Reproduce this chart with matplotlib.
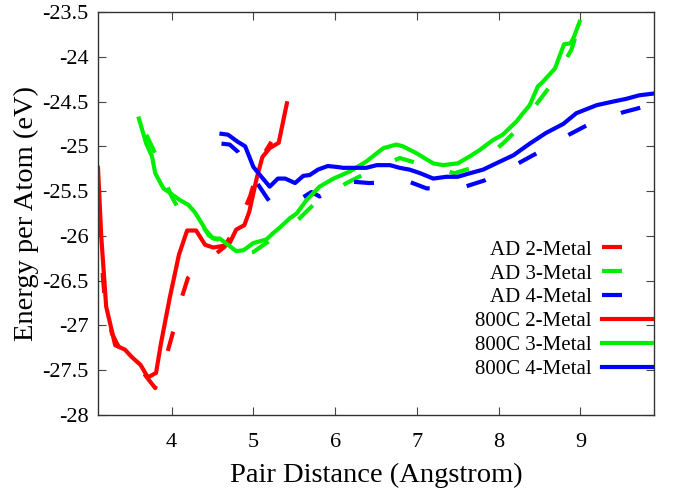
import matplotlib
matplotlib.use("Agg")
import matplotlib.pyplot as plt

plt.rcParams['font.family'] = ['Liberation Serif', 'DejaVu Serif']

# AD 2-Metal (dashed red)
ad2_x = [3.10, 3.14, 3.16, 3.18, 3.27, 3.37, 3.53, 3.69, 3.80, 3.94, 4.01, 4.12,
         4.20, 4.32, 4.46, 4.65, 4.86, 4.96, 5.10, 5.22]
ad2_y = [-25.78, -26.02, -26.46, -26.68, -27.09, -27.27, -27.38, -27.57, -27.70, -27.33,
         -27.10, -26.70, -26.47, -26.36, -26.26, -26.12, -25.77, -25.56, -25.13, -24.95]

# AD 3-Metal (dashed green)
ad3_x = [3.69, 3.80, 3.89, 4.00, 4.08, 4.20, 4.30, 4.40, 4.50, 4.60, 4.70, 4.80, 4.90,
         5.00, 5.22, 5.57, 5.77, 6.14, 6.38, 6.79, 7.01, 7.46, 7.71, 8.05, 8.24, 8.52,
         8.67, 8.89, 9.00]
ad3_y = [-24.87, -25.08, -25.32, -25.56, -25.69, -25.72, -25.78, -25.92, -26.02, -26.05,
         -26.12, -26.18, -26.20, -26.18, -26.04, -25.80, -25.62, -25.41, -25.30, -25.13,
         -25.19, -25.30, -25.23, -24.97, -24.80, -24.46, -24.28, -23.92, -23.61]

# AD 4-Metal (dashed blue)
ad4_x = [4.61, 4.71, 4.81, 4.93, 5.06, 5.20, 5.39, 5.59, 5.71, 5.81, 6.14, 6.42, 6.89,
         7.12, 7.59, 7.83, 8.24, 8.46, 8.86, 9.09, 9.52, 9.77]
ad4_y = [-24.97, -24.98, -25.06, -25.24, -25.43, -25.62, -25.65, -25.58, -25.51, -25.56,
         -25.39, -25.41, -25.39, -25.47, -25.45, -25.38, -25.19, -25.08, -24.87, -24.76,
         -24.62, -24.56]

# 800C 2-Metal (solid red)
c2_x = [3.10, 3.14, 3.20, 3.31, 3.43, 3.51, 3.62, 3.71, 3.81, 3.87, 3.98, 4.09, 4.19,
        4.30, 4.41, 4.51, 4.64, 4.71, 4.79, 4.89, 4.95, 5.04, 5.11, 5.20, 5.31, 5.41]
c2_y = [-25.24, -26.01, -26.79, -27.22, -27.27, -27.35, -27.44, -27.58, -27.53, -27.20,
        -26.68, -26.21, -25.94, -25.94, -26.10, -26.13, -26.11, -26.08, -25.93, -25.88,
        -25.73, -25.36, -25.12, -25.02, -24.96, -24.52]

# 800C 3-Metal (solid green)
c3_x = [3.60, 3.69, 3.76, 3.80, 3.90, 3.98, 4.10, 4.20, 4.28, 4.37, 4.45, 4.51, 4.59,
        4.69, 4.79, 4.88, 5.00, 5.16, 5.24, 5.32, 5.45, 5.53, 5.65, 5.81, 5.98, 6.18,
        6.38, 6.59, 6.75, 6.83, 7.00, 7.20, 7.32, 7.50, 7.65, 7.77, 7.93, 8.05, 8.22,
        8.28, 8.38, 8.48, 8.54, 8.69, 8.75, 8.80, 8.88, 8.92, 8.99]
c3_y = [-24.69, -24.97, -25.11, -25.30, -25.47, -25.52, -25.60, -25.65, -25.73, -25.86,
        -25.99, -26.03, -26.03, -26.10, -26.17, -26.16, -26.08, -26.04, -25.97, -25.91,
        -25.80, -25.75, -25.60, -25.45, -25.36, -25.28, -25.17, -25.02, -24.98, -25.00,
        -25.08, -25.19, -25.21, -25.19, -25.11, -25.04, -24.93, -24.87, -24.72, -24.65,
        -24.54, -24.33, -24.28, -24.13, -23.98, -23.86, -23.85, -23.78, -23.61]

# 800C 4-Metal (solid blue)
c4_x = [4.61, 4.69, 4.81, 4.90, 5.00, 5.08, 5.20, 5.30, 5.39, 5.51, 5.61, 5.69, 5.79,
        5.91, 6.02, 6.10, 6.22, 6.38, 6.51, 6.67, 6.79, 6.91, 7.04, 7.20, 7.36, 7.50,
        7.65, 7.81, 7.97, 8.18, 8.38, 8.58, 8.79, 8.95, 9.20, 9.40, 9.56, 9.72, 9.90]
c4_y = [-24.86, -24.87, -24.95, -25.00, -25.23, -25.32, -25.45, -25.36, -25.36, -25.41,
        -25.33, -25.32, -25.26, -25.22, -25.23, -25.24, -25.24, -25.24, -25.21, -25.21,
        -25.24, -25.26, -25.30, -25.36, -25.34, -25.34, -25.30, -25.26, -25.19, -25.10,
        -24.97, -24.85, -24.75, -24.63, -24.54, -24.50, -24.47, -24.43, -24.41]

x_ticks = [4, 5, 6, 7, 8, 9]
y_ticks = [-28, -27.5, -27, -26.5, -26, -25.5, -25, -24.5, -24, -23.5]
y_tick_labels = ['-28', '-27.5', '-27', '-26.5', '-26', '-25.5', '-25', '-24.5', '-24', '-23.5']

red, green, blue = '#ff0000', '#00ee00', '#0000ff'
dash = (0, (4.8, 8.9))

fig = plt.figure(figsize=(6.73, 4.91), dpi=100)
ax = fig.add_axes([98 / 673, 1 - 415 / 491, (654 - 98) / 673, (415 - 12) / 491])

ax.plot(ad2_x, ad2_y, color=red, lw=3, linestyle=dash, label='AD 2-Metal')
ax.plot(ad3_x, ad3_y, color=green, lw=3, linestyle=dash, label='AD 3-Metal')
ax.plot(ad4_x, ad4_y, color=blue, lw=3, linestyle=dash, label='AD 4-Metal')
ax.plot(c2_x, c2_y, color=red, lw=3, label='800C 2-Metal')
ax.plot(c3_x, c3_y, color=green, lw=3, label='800C 3-Metal')
ax.plot(c4_x, c4_y, color=blue, lw=3, label='800C 4-Metal')

ax.set_xlim(3.1, 9.9)
ax.set_ylim(-28, -23.5)
ax.set_xticks(x_ticks)
ax.set_yticks(y_ticks)
ax.set_yticklabels(y_tick_labels)
ax.tick_params(direction='in', length=5.5, width=0.8, color='#444444',
               top=True, right=True, labelsize=16)
ax.tick_params(axis='x', pad=13)
ax.tick_params(axis='y', pad=7)
for s in ax.spines.values():
    s.set_color('#333333')
    s.set_linewidth(1.0)

ax.set_xlabel('Pair Distance (Angstrom)', fontsize=20.5, labelpad=8)
ax.set_ylabel('Energy per Atom (eV)', fontsize=20.5, labelpad=2)

ax.legend(loc='upper right', bbox_to_anchor=(652 / 673, 1 - 240 / 491),
          bbox_transform=fig.transFigure, frameon=False, markerfirst=False,
          fontsize=15, handlelength=2.4, handletextpad=0.5, labelspacing=0.21,
          borderpad=0, borderaxespad=0)

fig.savefig('out.png', dpi=100)
